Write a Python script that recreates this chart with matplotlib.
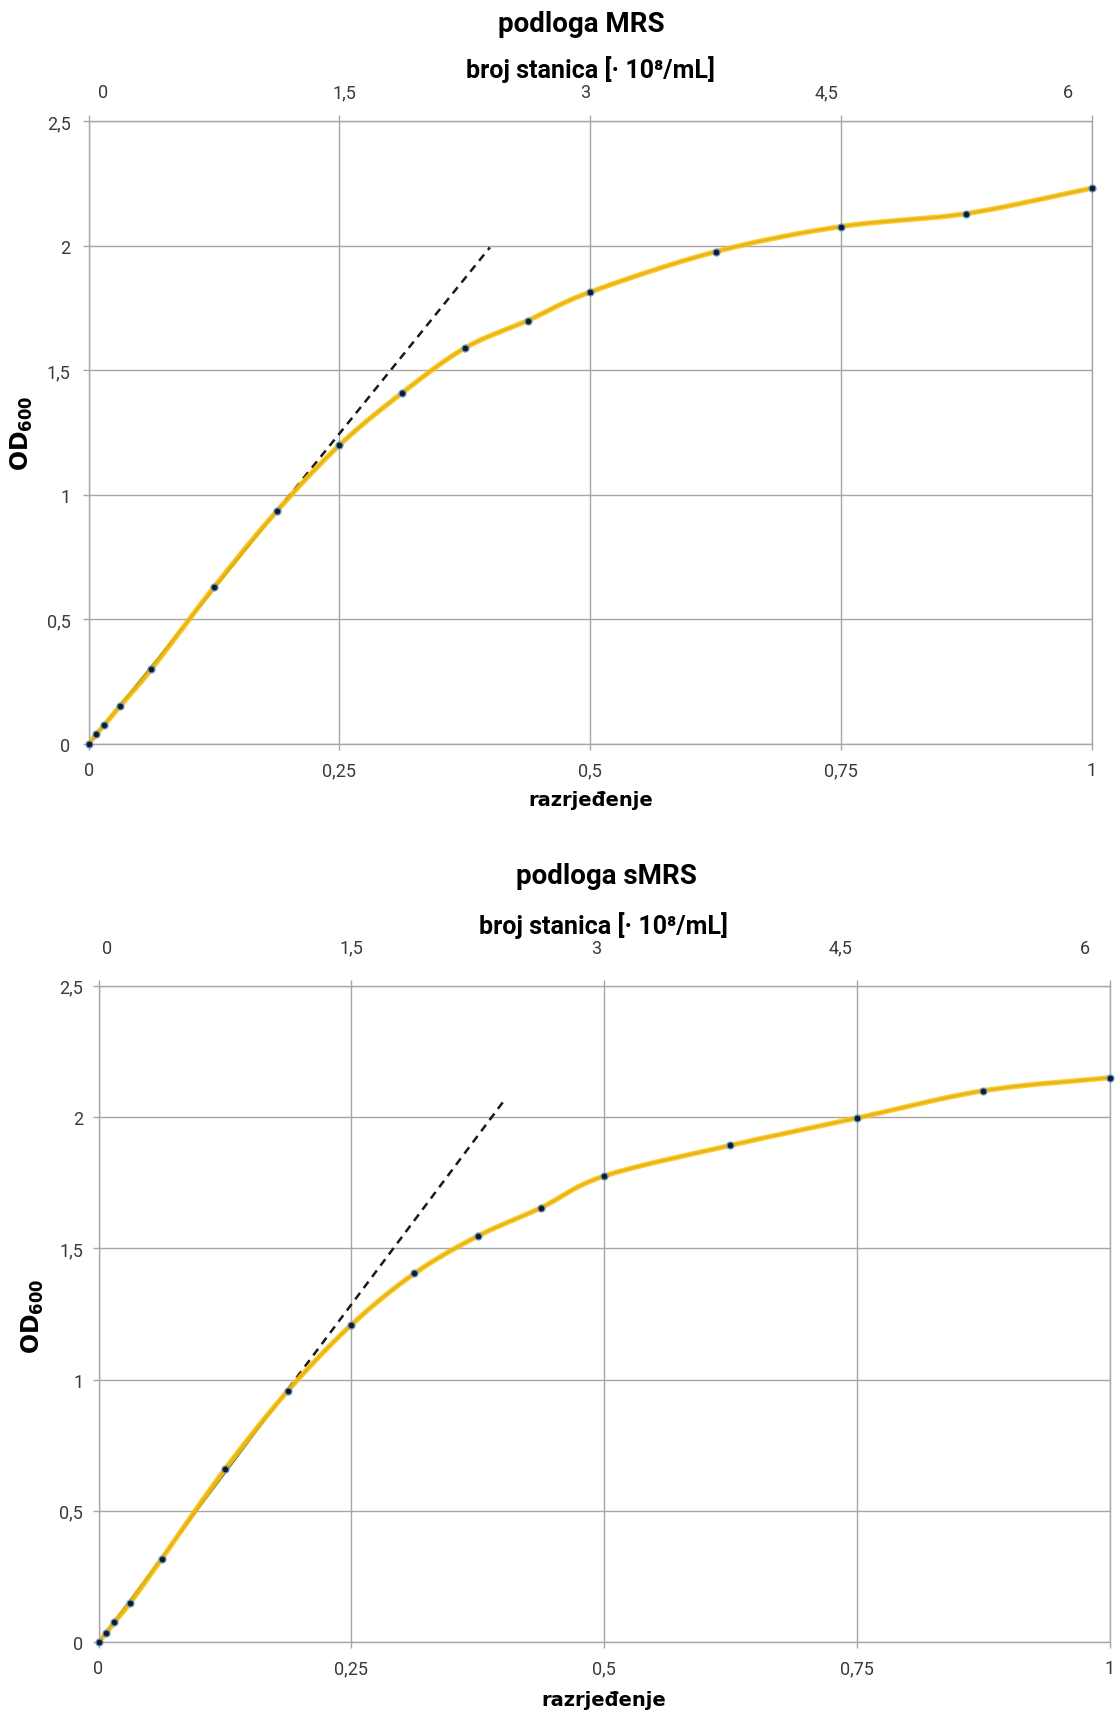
import numpy as np
import matplotlib
matplotlib.use("Agg")
import matplotlib.pyplot as plt

# dilution (x) and OD600 readings for both media
dilution = [0, 1/128, 1/64, 1/32, 1/16, 1/8, 3/16, 1/4, 5/16, 3/8, 7/16, 1/2, 5/8, 3/4, 7/8, 1]
od_mrs = [0, 0.04, 0.076, 0.152, 0.30, 0.63, 0.935, 1.20, 1.41, 1.59, 1.70, 1.815, 1.977, 2.078, 2.13, 2.232]
od_smrs = [0, 0.035, 0.075, 0.149, 0.317, 0.658, 0.958, 1.208, 1.404, 1.546, 1.654, 1.775, 1.892, 1.996, 2.10, 2.15]

n_linear = 7          # points used for the linear trend (up to 3/16)
trend_end = 0.4       # extrapolated trend reaches this dilution
cells_max = 6         # 10^8 cells/mL at dilution 1

x_ticks = [0, 0.25, 0.5, 0.75, 1]
x_labels = ['0', '0,25', '0,5', '0,75', '1']
y_ticks = [0, 0.5, 1, 1.5, 2, 2.5]
y_labels = ['0', '0,5', '1', '1,5', '2', '2,5']
top_ticks = [0, 1.5, 3, 4.5, 6]
top_labels = ['0', '1,5', '3', '4,5', '6']

NARROW = ['Roboto', 'DejaVu Sans']
GRID = '#a6a6a6'
TICKC = '#3a3a3a'


def smooth(x, y, n=24):
    # catmull-rom through the points, similar to a spreadsheet "smoothed line"
    x = np.asarray(x, float)
    y = np.asarray(y, float)
    px = np.concatenate([[2 * x[0] - x[1]], x, [2 * x[-1] - x[-2]]])
    py = np.concatenate([[2 * y[0] - y[1]], y, [2 * y[-1] - y[-2]]])
    t = np.linspace(0, 1, n)[:, None]
    xs, ys = [], []
    for i in range(1, len(px) - 2):
        for p, out in ((px, xs), (py, ys)):
            p0, p1, p2, p3 = p[i - 1], p[i], p[i + 1], p[i + 2]
            seg = 0.5 * ((2 * p1) + (-p0 + p2) * t + (2 * p0 - 5 * p1 + 4 * p2 - p3) * t ** 2
                         + (-p0 + 3 * p1 - 3 * p2 + p3) * t ** 3)
            out.append(seg.ravel())
    return np.concatenate(xs), np.concatenate(ys)


def draw_panel(ax, od, trend_color, top_map, top_pad, xpad, ypad):
    ax.set_xlim(0, 1)
    ax.set_ylim(0, 2.5)
    ax.set_xticks(x_ticks)
    ax.set_xticklabels(x_labels)
    ax.set_yticks(y_ticks)
    ax.set_yticklabels(y_labels)
    ax.grid(True, color=GRID, lw=1.0)
    ax.set_axisbelow(True)
    for s in ax.spines.values():
        s.set_color(GRID)
        s.set_linewidth(1.0)
    ax.tick_params(axis='both', colors=GRID, labelcolor=TICKC, length=4, width=1.0, labelsize=13)
    ax.tick_params(axis='x', top=True, pad=xpad)
    ax.tick_params(axis='y', pad=ypad)
    for lab in ax.get_xticklabels() + ax.get_yticklabels():
        lab.set_family(NARROW)

    # linear trend on the first points + dashed extrapolation
    xl = np.array(dilution[:n_linear])
    k = np.sum(xl * np.array(od[:n_linear])) / np.sum(xl * xl)
    ax.plot([0, dilution[n_linear - 1]], [0, k * dilution[n_linear - 1]], color=trend_color, lw=1.2, zorder=3)
    ax.plot([dilution[n_linear - 1], trend_end], [k * dilution[n_linear - 1], k * trend_end],
            color='#1a1a1a', lw=1.8, dashes=(3.2, 2.4), zorder=3)

    sx, sy = smooth(dilution, od)
    ax.plot(sx, sy, color='#4472c4', lw=1.6, zorder=4)
    ax.plot(sx, sy, color='#ffc000', lw=3.8, alpha=0.85, zorder=5, solid_capstyle='round')
    ax.plot(dilution, od, 'o', ms=5, mfc='#1a1a1a', mec='#5b9bd5', mew=0.9, zorder=6, clip_on=False)

    a, b = top_map
    sec = ax.secondary_xaxis('top', functions=(lambda v: (v - a) * cells_max / (b - a),
                                                 lambda v: a + v * (b - a) / cells_max))
    sec.set_xticks(top_ticks)
    sec.set_xticklabels(top_labels)
    sec.tick_params(length=0, pad=top_pad, labelsize=13, labelcolor=TICKC)
    sec.spines['top'].set_visible(False)
    for lab in sec.get_xticklabels():
        lab.set_family(NARROW)


fig = plt.figure(figsize=(11.16, 17.15), dpi=100)

ax1 = fig.add_axes([0.0794, 0.5656, 0.899, 0.363])
draw_panel(ax1, od_mrs, '#1a1a1a', (0.0142, 0.976), 14.5, 8.5, 9)

ax2 = fig.add_axes([0.0883, 0.0420, 0.9059, 0.3826])
draw_panel(ax2, od_smrs, '#375623', (0.0087, 0.976), 21, 8.5, 7)

title_kw = dict(ha='center', va='center', fontsize=20, fontweight='bold', family=NARROW)
sub_kw = dict(ha='center', va='center', fontsize=18, fontweight='bold', family=NARROW)
lab_kw = dict(ha='center', va='center', fontsize=14, fontweight='bold', family=['DejaVu Sans'])

fig.text(0.5206, 0.986, 'podloga MRS', **title_kw)
fig.text(0.5295, 0.9595, 'broj stanica [· 10⁸/mL]', **sub_kw)
fig.text(0.5295, 0.5335, 'razrjeđenje', **lab_kw)
fig.text(0.0197, 0.7475, r'$\mathbf{OD_{600}}$', rotation=90, ha='center', va='center', fontsize=17)

fig.text(0.543, 0.4892, 'podloga sMRS', **title_kw)
fig.text(0.541, 0.4605, 'broj stanica [· 10⁸/mL]', **sub_kw)
fig.text(0.541, 0.0085, 'razrjeđenje', **lab_kw)
fig.text(0.0296, 0.2327, r'$\mathbf{OD_{600}}$', rotation=90, ha='center', va='center', fontsize=17)

fig.savefig('out.png', dpi=100)
